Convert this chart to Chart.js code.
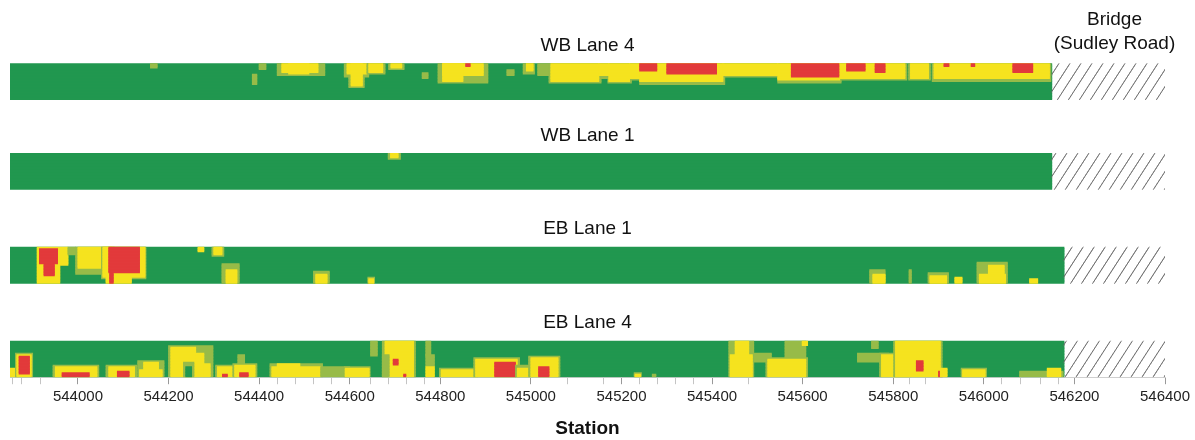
<!DOCTYPE html>
<html>
<head>
<meta charset="utf-8">
<script src="https://cdn.jsdelivr.net/npm/chart.js@4.4.1/dist/chart.umd.min.js"></script>
<style>
html,body{margin:0;background:#fff}
#wrap{width:1195px;height:440px}
</style>
</head>
<body>
<div id="wrap"><canvas id="c"></canvas></div>
<script>
// lanes listed bottom to top
const laneNames=["EB Lane 4","EB Lane 1","WB Lane 1","WB Lane 4"];
const laneStart=543850;
const laneEnds=[546177,546177,546150,546150];
const bridgeEnd=546400;
const stationTicks=[544000,544200,544400,544600,544800,545000,545200,545400,545600,545800,546000,546200,546400];
const minorTicks=[543855,543875,543918,544440,544480,544520,544560,544645,544685,544725,544765,545080,545160,545240,545280,545320,545360,545480,545835,545872,546040,546080,546125,546165];

// zones: [from station, to station, offset from lane top ft, offset ft, level]
// level 0 green, 1 transition, 2 yellow, 3 red
const wbLane4=[
[544160,544175,0,1.5,1],[544400,544415,0,2,1],[544385,544395,3.5,7,1],
[544440,544545,0,3.8,1],[544450,544530,0,2.8,2],[544465,544510,0,3.5,2],
[544588,544642,0,4.2,1],[544598,544632,0,8,1],[544594,544638,0,3.5,2],[544603,544628,0,7.5,2],
[544638,544678,0,3.2,1],[544642,544673,0,2.8,2],
[544686,544720,0,2,1],[544691,544715,0,1.5,2],
[544760,544773,3,5,1],
[544795,544905,0,6.5,1],[544805,544895,0,4,2],[544805,544850,0,6,2],[544856,544866,0,1,3],
[544947,544963,2,4,1],
[544983,545008,0,3.5,1],[544990,545005,0,2.5,2],
[545015,545040,0,4,1],
[545040,545155,0,6.4,1],[545150,545175,0,4.7,1],[545170,545222,0,6.4,1],[545218,545244,0,5.3,1],
[545240,545428,0,6.7,1],[545424,545548,0,4.3,1],[545545,545685,0,6.2,1],[545682,545830,0,5.3,1],
[545834,545882,0,5.5,1],[545886,546148,0,5.6,1],
[545044,545150,0,5.7,2],[545150,545172,0,4,2],[545172,545218,0,5.7,2],[545218,545240,0,4.6,2],
[545240,545424,0,6,2],[545424,545545,0,3.6,2],[545545,545682,0,5.5,2],[545682,545826,0,4.6,2],
[545838,545878,0,4.8,2],[545890,546145,0,4.9,2],
[545240,545278,0,2.3,3],[545300,545410,0,3.4,3],[545575,545680,0,4.5,3],[545697,545738,0,2.3,3],
[545760,545782,0,2.9,3],[545912,545923,0,1,3],[545972,545980,0,1,3],[546064,546108,0,2.9,3]
];
const wbLane1=[
[544685,544712,0,2,1],[544690,544707,0,1.3,2]
];
const ebLane1=[
[543910,543978,0,6,2],[543910,543960,6,12,2],[543915,543955,0.5,5.5,3],[543925,543948,5.5,9.5,3],
[543978,543995,0,2.4,1],
[543995,544080,0,9,1],[544000,544075,0,7,2],
[544052,544150,0,10.5,1],[544055,544148,0,10,2],[544062,544118,10,12,2],[544068,544136,0,8.5,3],[544070,544078,8.5,12,3],
[544265,544278,0,1.2,2],
[544296,544322,0,3,1],[544300,544318,0,2.4,2],
[544318,544356,5.5,12,1],[544327,544351,7.8,12,2],
[544520,544555,8,12,1],[544525,544550,9,12,2],
[544640,544655,10,12,1],[544642,544653,10.8,12,2],
[545748,545782,7.5,12,1],[545755,545782,9,12,2],
[545835,545840,7.5,12,1],
[545877,545922,8.8,12,1],[545881,545918,9.6,12,2],
[545936,545952,10.2,12,2],
[545985,546052,5.2,12,1],[545990,546048,9,12,2],[546010,546045,6,9,2],
[546101,546119,10.8,12,2]
];
const ebLane4=[
[543850,543868,9,12,2],
[543862,543900,4,12,1],[543865,543897,4.6,12,2],[543870,543893,5.1,11,3],
[543945,544046,8,12,1],[543950,544042,8.8,12,2],[543965,544025,10.8,12,3],
[544062,544130,8,12,1],[544068,544125,8.6,12,2],[544087,544113,10.3,12,3],
[544132,544190,6.8,12,1],[544136,544186,9.5,12,2],[544145,544178,7.4,9.5,2],
[544200,544298,1.6,12,1],[544205,544260,2.3,12,2],[544260,544278,4,12,2],[544278,544292,7.5,12,2],
[544233,544256,7,12,1],[544238,544251,8.5,12,0],
[544304,544350,8,12,1],[544308,544346,8.6,12,2],[544319,544330,11,12,3],
[544353,544368,4.6,9.1,1],
[544342,544395,7.5,12,1],[544346,544391,8,12,2],[544357,544376,10.9,12,3],
[544424,544540,7.5,12,1],[544428,544536,8.5,12,2],[544440,544490,7.6,8.5,2],
[544536,544600,8.6,12,1],[544588,544645,8.5,12,1],[544590,544643,9.1,12,2],
[544646,544661,0,4.6,1],
[544672,544745,0,12,1],[544678,544741,0,12,2],[544672,544687,4.5,12,1],
[544696,544707,6.3,8,3],[544719,544724,11,12,3],
[544768,544779,0,4.6,1],[544768,544787,4.6,8.5,1],[544768,544787,8.5,12,2],
[544798,544882,9,12,1],[544802,544878,9.7,12,2],
[544874,544975,5.6,12,1],[544878,544970,6.3,12,2],[544920,544966,7.4,12,3],
[544966,545004,8.4,12,1],[544970,545000,9.1,12,2],
[544995,545064,5,12,1],[545000,545060,5.7,12,2],[545017,545040,8.6,12,3],
[545228,545244,10.5,12,1],[545230,545242,11,12,2],[545268,545276,11,12,1],
[545437,545492,0,12,1],[545451,545481,0,4.6,2],[545440,545489,4.6,12,2],
[545493,545531,4,6.9,1],
[545561,545607,0,6.3,1],[545599,545611,0,1.5,2],
[545519,545611,5.6,12,1],[545523,545607,6.3,12,2],
[545752,545767,0,2.3,1],[545721,545790,4,6.9,1],
[545770,545839,4,12,1],[545774,545835,4.6,12,2],
[545801,545908,0,12,1],[545805,545904,0,12,2],
[545851,545866,6.9,9.7,3],[545900,545908,10.3,12,3],[545904,545919,9,12,2],
[545950,546006,9,12,1],[545953,546003,9.7,12,2],
[546079,546175,10.3,12,1],[546140,546170,9,12,2]
];
const laneZones=[ebLane4,ebLane1,wbLane1,wbLane4];

const levelColors=["#21974f","#97bb48","#f5e31f","#e23a3b"];
const laneBase=[0,31.3,62.6,92.5], laneWidth=12, rowStep=0.5;

function makeHatch(){
let t=document.createElement("canvas"); t.width=11; t.height=17;
let g=t.getContext("2d"); g.strokeStyle="#6a6a6a"; g.lineWidth=0.9;
[-11,0,11].forEach(o=>{g.beginPath(); g.moveTo(o,17); g.lineTo(o+11,0); g.stroke();});
return g.createPattern(t,"repeat");
}
const hatch=makeHatch();

let bars=[];
function addRows(lane,from,to,top,bot,fill){
let k0=Math.floor(top/rowStep+1e-6), k1=Math.ceil(bot/rowStep-1e-6);
for(let k=k0;k<k1;k++) bars.push({x:[from,to],y:laneBase[lane]+laneWidth-(k+0.5)*rowStep,c:fill});
}
laneNames.forEach((n,i)=>{
addRows(i,laneStart,laneEnds[i],0,laneWidth,0);
addRows(i,laneEnds[i],bridgeEnd,0,laneWidth,"hatch");
});
laneZones.forEach((zones,i)=>zones.forEach(z=>addRows(i,z[0],z[1],z[2],z[3],z[4])));

const laneLabels={id:"laneLabels",afterDraw(chart){
const {ctx,chartArea,scales:{x,y}}=chart;
ctx.save();
ctx.fillStyle="#111"; ctx.textAlign="center"; ctx.textBaseline="middle";
ctx.font='19px "Liberation Sans"';
let cx=(chartArea.left+chartArea.right)/2;
laneNames.forEach((n,i)=>ctx.fillText(n,cx,y.getPixelForValue(laneBase[i]+laneWidth)-18));
let bx=x.getPixelForValue((laneEnds[0]+bridgeEnd)/2), top=y.getPixelForValue(laneBase[3]+laneWidth);
ctx.fillText("Bridge",bx,top-44);
ctx.fillText("(Sudley Road)",bx,top-20);
ctx.restore();
}};

new Chart(document.getElementById("c"),{
type:"bar",
data:{datasets:[{
data:bars,
backgroundColor:c=>!c.raw?null:(c.raw.c==="hatch"?hatch:levelColors[c.raw.c]),
borderWidth:0,barPercentage:1,categoryPercentage:1,inflateAmount:0.4
}]},
options:{
indexAxis:"y",responsive:true,maintainAspectRatio:false,animation:false,events:[],
layout:{padding:{left:10,right:30,top:11,bottom:0}},
plugins:{legend:{display:false},tooltip:{enabled:false}},
scales:{
y:{type:"linear",min:0,max:122,display:false,offset:false},
x:{type:"linear",min:laneStart,max:bridgeEnd,
afterBuildTicks:s=>{s.ticks=[...stationTicks,...minorTicks].sort((a,b)=>a-b).map(v=>({value:v}));},
ticks:{autoSkip:false,maxRotation:0,padding:4,color:"#222",font:{family:"Liberation Sans",size:15},
callback:v=>stationTicks.includes(v)?String(v):""},
grid:{drawOnChartArea:false,tickLength:7,tickColor:c=>c.tick&&stationTicks.includes(c.tick.value)?"#999":"#c4c4c4"},
border:{color:"#cfcfcf"},
title:{display:true,text:"Station",color:"#111",font:{family:"Liberation Sans",size:19,weight:"bold"},padding:{top:7,bottom:0}}
}
}
},
plugins:[laneLabels]
});
</script>
</body>
</html>
